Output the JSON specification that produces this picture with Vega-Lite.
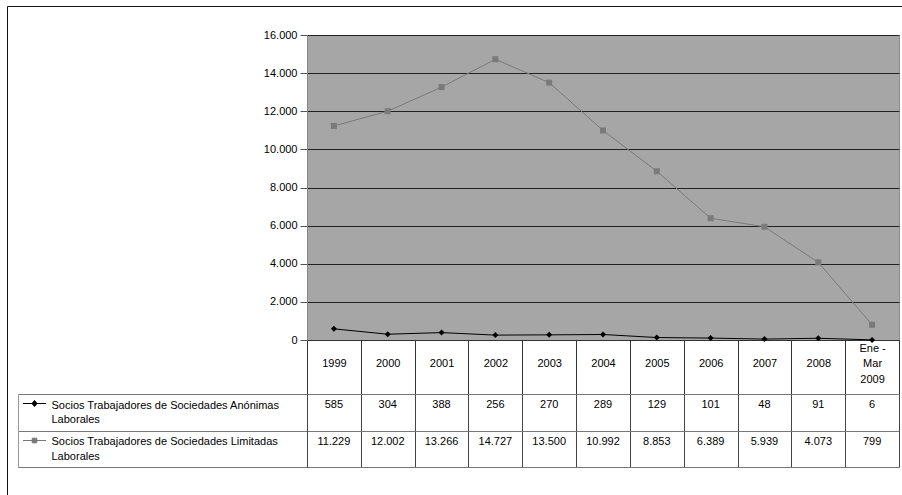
{
  "$schema": "https://vega.github.io/schema/vega-lite/v6.json",
  "background": "white",
  "padding": {"left": 6, "top": 5, "right": 0, "bottom": 0},
  "spacing": 54,
  "bounds": "flush",
  "datasets": {
    "d": [
      {"serie": "Socios Trabajadores de Sociedades Anónimas Laborales", "periodo": "1999", "valor": 585},
      {"serie": "Socios Trabajadores de Sociedades Anónimas Laborales", "periodo": "2000", "valor": 304},
      {"serie": "Socios Trabajadores de Sociedades Anónimas Laborales", "periodo": "2001", "valor": 388},
      {"serie": "Socios Trabajadores de Sociedades Anónimas Laborales", "periodo": "2002", "valor": 256},
      {"serie": "Socios Trabajadores de Sociedades Anónimas Laborales", "periodo": "2003", "valor": 270},
      {"serie": "Socios Trabajadores de Sociedades Anónimas Laborales", "periodo": "2004", "valor": 289},
      {"serie": "Socios Trabajadores de Sociedades Anónimas Laborales", "periodo": "2005", "valor": 129},
      {"serie": "Socios Trabajadores de Sociedades Anónimas Laborales", "periodo": "2006", "valor": 101},
      {"serie": "Socios Trabajadores de Sociedades Anónimas Laborales", "periodo": "2007", "valor": 48},
      {"serie": "Socios Trabajadores de Sociedades Anónimas Laborales", "periodo": "2008", "valor": 91},
      {"serie": "Socios Trabajadores de Sociedades Anónimas Laborales", "periodo": "Ene - Mar 2009", "valor": 6},
      {"serie": "Socios Trabajadores de Sociedades Limitadas Laborales", "periodo": "1999", "valor": 11229},
      {"serie": "Socios Trabajadores de Sociedades Limitadas Laborales", "periodo": "2000", "valor": 12002},
      {"serie": "Socios Trabajadores de Sociedades Limitadas Laborales", "periodo": "2001", "valor": 13266},
      {"serie": "Socios Trabajadores de Sociedades Limitadas Laborales", "periodo": "2002", "valor": 14727},
      {"serie": "Socios Trabajadores de Sociedades Limitadas Laborales", "periodo": "2003", "valor": 13500},
      {"serie": "Socios Trabajadores de Sociedades Limitadas Laborales", "periodo": "2004", "valor": 10992},
      {"serie": "Socios Trabajadores de Sociedades Limitadas Laborales", "periodo": "2005", "valor": 8853},
      {"serie": "Socios Trabajadores de Sociedades Limitadas Laborales", "periodo": "2006", "valor": 6389},
      {"serie": "Socios Trabajadores de Sociedades Limitadas Laborales", "periodo": "2007", "valor": 5939},
      {"serie": "Socios Trabajadores de Sociedades Limitadas Laborales", "periodo": "2008", "valor": 4073},
      {"serie": "Socios Trabajadores de Sociedades Limitadas Laborales", "periodo": "Ene - Mar 2009", "valor": 799}
    ]
  },
  "config": {
    "font": "Liberation Sans",
    "locale": {"number": {"decimal": ",", "thousands": ".", "grouping": [3], "currency": ["", " €"]}},
    "axis": {"labelFont": "Liberation Sans", "labelFontSize": 11, "labelColor": "#000000"},
    "text": {"font": "Liberation Sans"},
    "view": {"stroke": null}
  },
  "resolve": {
    "scale": {"shape": "independent", "fill": "independent", "stroke": "independent", "color": "independent"},
    "legend": {"shape": "independent", "fill": "independent", "stroke": "independent", "color": "independent"}
  },
  "vconcat": [
    {
      "width": 592,
      "height": 305,
      "data": {"name": "d"},
      "view": {"fill": "#a6a6a6", "stroke": "#8c8c8c"},
      "encoding": {
        "x": {
          "field": "periodo", "type": "nominal", "sort": null, "bandPosition": 0.5,
          "scale": {"type": "band", "paddingInner": 0, "paddingOuter": 0},
          "axis": {
            "title": null, "orient": "bottom", "labelAngle": 0, "tickBand": "extent",
            "tickSize": 54, "tickColor": "#333333", "domainColor": "#333333",
            "labelPadding": -46,
            "labelBaseline": "middle", "labelLineHeight": 15.5,
            "labelExpr": "isString(datum.value) ? (length(datum.value) > 4 ? split(replace(datum.value, ' Mar ', '|Mar|'), '|') : ['', datum.value]) : ''", "grid": false
          }
        },
        "y": {
          "field": "valor", "type": "quantitative",
          "scale": {"domain": [0, 16000], "nice": false},
          "axis": {
            "title": null, "values": [0, 2000, 4000, 6000, 8000, 10000, 12000, 14000, 16000],
            "grid": true, "gridColor": "#222222", "gridOpacity": 1, "tickSize": 7, "tickColor": "#555555",
            "domainColor": "#888888", "labelPadding": 3,
            "labelExpr": "replace(format(datum.value, ','), ',', '.')"
          }
        },
        "color": {
          "field": "serie", "type": "nominal",
          "scale": {"domain": ["Socios Trabajadores de Sociedades Anónimas Laborales", "Socios Trabajadores de Sociedades Limitadas Laborales"], "range": ["#000000", "#7a7a7a"]},
          "legend": {
            "orient": "none", "legendX": -300, "legendY": -29, "title": null, "labelExpr": "''",
            "direction": "horizontal", "symbolSize": 4, "symbolOpacity": 0, "symbolStrokeWidth": 0, "columnPadding": 420,
            "padding": 256, "strokeColor": "#111111", "labelFontSize": 10
          }
        }
      },
      "layer": [
        {"mark": {"type": "line", "strokeWidth": 1}},
        {
          "mark": {"type": "point", "filled": true, "opacity": 1, "size": 36},
          "encoding": {
            "shape": {
              "field": "serie", "type": "nominal",
              "scale": {"domain": ["Socios Trabajadores de Sociedades Anónimas Laborales", "Socios Trabajadores de Sociedades Limitadas Laborales"], "range": ["diamond", "square"]},
              "legend": null
            }
          }
        }
      ]
    },
    {
      "width": 592,
      "height": 73,
      "data": {"name": "d"},
      "encoding": {
        "x": {
          "field": "periodo", "type": "nominal", "sort": null, "bandPosition": 0.5,
          "scale": {"type": "band", "paddingInner": 0, "paddingOuter": 0},
          "axis": {"title": null, "labels": false, "ticks": false, "domain": false, "grid": true, "tickBand": "extent", "gridColor": "#444444", "gridOpacity": 1}
        }
      },
      "layer": [
        {
          "mark": {"type": "text", "fontSize": 11, "baseline": "middle", "dy": -7, "color": "#000000"},
          "encoding": {
            "y": {
              "field": "serie", "type": "nominal",
              "sort": ["Socios Trabajadores de Sociedades Anónimas Laborales", "Socios Trabajadores de Sociedades Limitadas Laborales"],
              "scale": {"type": "band", "paddingInner": 0, "paddingOuter": 0},
              "axis": {
                "title": null, "orient": "left", "tickBand": "extent", "tickSize": 289, "tickColor": "#777777",
                "domain": true, "domainColor": "#444444", "grid": true, "gridColor": "#777777", "gridOpacity": 1,
                "labelAlign": "left", "labelBaseline": "middle", "labelPadding": -33, "labelOffset": -7.25, "labelLineHeight": 14.5,
                "labelLimit": 300,
                "labelExpr": "isString(datum.value) ? split(replace(datum.value, ' Laborales', '|Laborales'), '|') : ''"
              }
            },
            "text": {"field": "valor", "type": "quantitative", "format": ","}
          }
        },
        {
          "mark": {"type": "point", "filled": true, "size": 0},
          "encoding": {
            "y": {
              "field": "serie", "type": "nominal",
              "sort": ["Socios Trabajadores de Sociedades Anónimas Laborales", "Socios Trabajadores de Sociedades Limitadas Laborales"],
              "scale": {"type": "band", "paddingInner": 0, "paddingOuter": 0},
              "axis": {"title": null, "orient": "left", "offset": 289, "labels": false, "ticks": false, "grid": false, "domain": true, "domainColor": "#999999"}
            },
            "fill": {
              "field": "serie", "type": "nominal",
              "scale": {"domain": ["Socios Trabajadores de Sociedades Anónimas Laborales", "Socios Trabajadores de Sociedades Limitadas Laborales"], "range": ["#000000", "#777777"]},
              "legend": {"orient": "none", "legendX": -284.5, "legendY": -2.5, "title": null, "labelExpr": "''", "symbolSize": 529, "rowPadding": 20, "padding": 0, "symbolStrokeWidth": 1, "symbolOpacity": 1}
            },
            "stroke": {
              "field": "serie", "type": "nominal",
              "scale": {"domain": ["Socios Trabajadores de Sociedades Anónimas Laborales", "Socios Trabajadores de Sociedades Limitadas Laborales"], "range": ["#000000", "#777777"]},
              "legend": {"orient": "none", "legendX": -284.5, "legendY": -2.5, "title": null, "labelExpr": "''", "symbolSize": 529, "rowPadding": 20, "padding": 0, "symbolStrokeWidth": 1, "symbolOpacity": 1}
            },
            "shape": {
              "field": "serie", "type": "nominal",
              "scale": {"domain": ["Socios Trabajadores de Sociedades Anónimas Laborales", "Socios Trabajadores de Sociedades Limitadas Laborales"], "range": ["M-1,0H1M0,-0.26L0.22,0L0,0.26L-0.22,0Z", "M-1,0H1M-0.2,-0.2H0.2V0.2H-0.2Z"]},
              "legend": {"orient": "none", "legendX": -284.5, "legendY": -2.5, "title": null, "labelExpr": "''", "symbolSize": 529, "rowPadding": 20, "padding": 0, "symbolStrokeWidth": 1, "symbolOpacity": 1}
            }
          }
        }
      ],
      "resolve": {"axis": {"y": "independent"}}
    }
  ]
}
